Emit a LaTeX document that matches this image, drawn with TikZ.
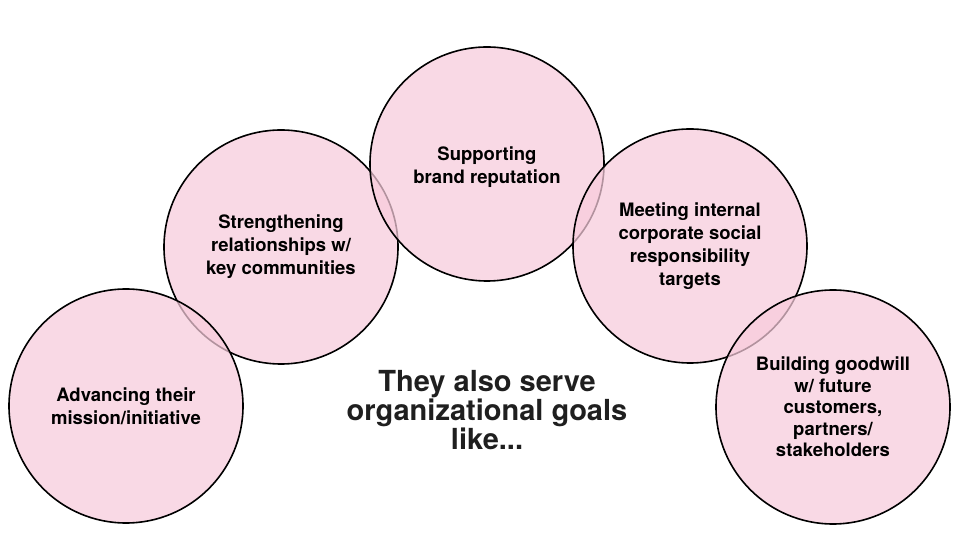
\documentclass[tikz,border=0pt]{standalone}
\usepackage{fontspec}
\setmainfont{TeX Gyre Heros}
\usepackage{tikz}
\usetikzlibrary{positioning}

\definecolor{goalpink}{RGB}{247,203,219}

\tikzset{
    goal/.style={circle, draw=black, line width=1.6pt, fill=goalpink,
        fill opacity=0.72, text opacity=1, minimum size=234pt, inner sep=0pt,
        align=center, font=\fontsize{18.5}{23}\selectfont\bfseries},
}

\begin{document}
\begin{tikzpicture}[x=1pt, y=1pt]
    \useasboundingbox (0,0) rectangle (960,540);

    % goal circles, drawn back to front
    \node[goal] (relations) at (281,293) {Strengthening\\relationships w/\\key communities};
    \node[goal] (brand) at (487,376) {};
    \node[align=center, font=\fontsize{18.5}{23}\selectfont\bfseries] (brandtext) at (487,373)
        {Supporting\\brand reputation};
    \node[goal] (csr) at (690,294) {Meeting internal\\corporate social\\responsibility\\targets};
    \node[goal, font=\fontsize{18.5}{21.5}\selectfont\bfseries] (goodwill) at (833,133)
        {Building goodwill\\w/ future\\customers,\\partners/\\stakeholders};
    \node[goal] (mission) at (126,134) {Advancing their\\mission/initiative};

    \node[align=center, font=\fontsize{29}{27}\selectfont\bfseries, text=black!88] (serve) at (487,130)
        {They also serve\\organizational goals\\like...};
\end{tikzpicture}
\end{document}
